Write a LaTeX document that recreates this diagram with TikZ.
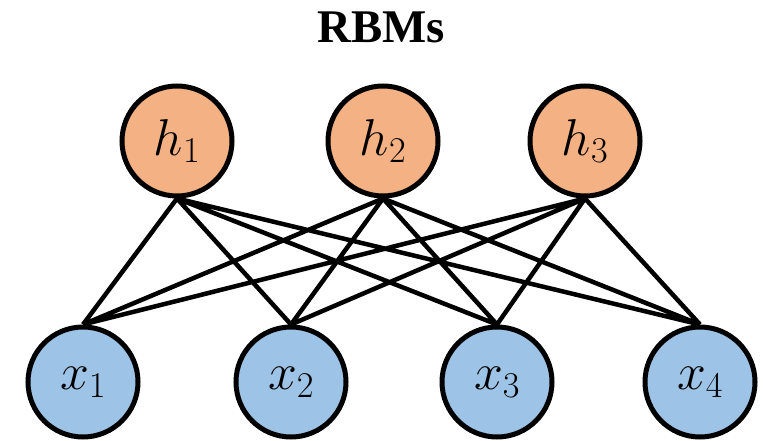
\RequirePackage{fix-cm}
\documentclass[tikz,border=0pt]{standalone}
\usepackage[no-math]{fontspec}
\newfontfamily\titlefont{Liberation Serif}
\usepackage{amsmath}

\definecolor{hidcol}{HTML}{F4B183}
\definecolor{viscol}{HTML}{9DC3E6}

\begin{document}
\begin{tikzpicture}[x=1bp,y=-1bp,
	unit/.style = {circle, draw, line width=5bp, inner sep=0pt, minimum size=110bp,
		font=\fontsize{52}{52}\selectfont},
	hid/.style = {unit, fill=hidcol},
	vis/.style = {unit, fill=viscol},
	link/.style = {line width=4.5bp}]
	\useasboundingbox (0,0) rectangle (763,441);
	\node[font=\titlefont\bfseries\fontsize{47}{47}\selectfont] (title) at (381,27) {RBMs};
	\node[hid] (h1) at (177,141) {$h_{1}$};
	\node[hid] (h2) at (383,141) {$h_{2}$};
	\node[hid] (h3) at (585,141) {$h_{3}$};
	\node[vis] (x1) at (83,382) {$x_{1}$};
	\node[vis] (x2) at (291,382) {$x_{2}$};
	\node[vis] (x3) at (497,382) {$x_{3}$};
	\node[vis] (x4) at (700,382) {$x_{4}$};
	\draw[link]
			(h1.south) -- (x1.north) (h1.south) -- (x2.north)
			(h1.south) -- (x3.north) (h1.south) -- (x4.north)
			(h2.south) -- (x1.north) (h2.south) -- (x2.north)
			(h2.south) -- (x3.north) (h2.south) -- (x4.north)
			(h3.south) -- (x1.north) (h3.south) -- (x2.north)
			(h3.south) -- (x3.north) (h3.south) -- (x4.north);
\end{tikzpicture}
\end{document}
